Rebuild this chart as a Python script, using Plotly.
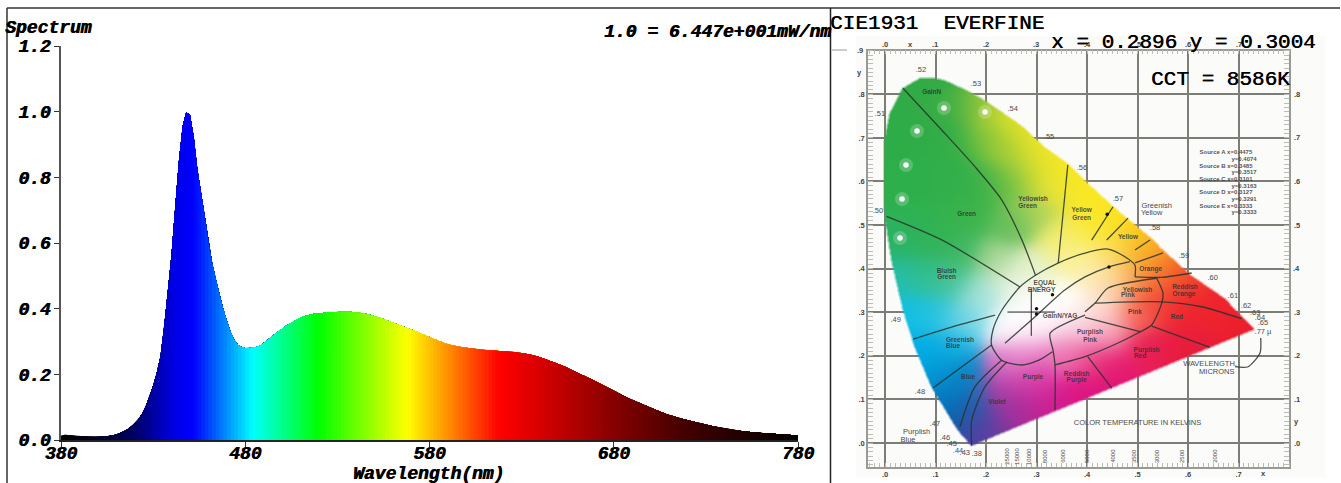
import numpy as np
import plotly.graph_objects as go

W, H = 1341, 483

# ---------- spectrum data (every 2 nm from 380 nm) ----------
wavelength_start = 380
wavelength_step = 2
spectrum = [
    .014,.016,.015,.013,.012,.011,.010,.010,.009,.009,
    .009,.010,.011,.012,.014,.017,.021,.026,.032,.040,
    .050,.063,.080,.103,.132,.165,.205,.255,.345,.450,
    .565,.710,.850,.955,.998,.990,.925,.825,.750,.680,
    .600,.540,.490,.440,.400,.363,.330,.305,.290,.283,
    .280,.280,.281,.283,.287,.295,.304,.314,.323,.332,
    .339,.347,.354,.361,.368,.373,.377,.380,.383,.385,
    .386,.387,.388,.389,.390,.391,.391,.391,.391,.390,
    .389,.388,.386,.384,.381,.378,.375,.371,.367,.362,
    .358,.354,.349,.345,.340,.336,.332,.328,.323,.318,
    .313,.308,.303,.299,.295,.292,.289,.286,.284,.282,
    .281,.279,.278,.277,.275,.274,.274,.273,.272,.271,
    .271,.270,.269,.268,.267,.265,.263,.261,.259,.255,
    .252,.248,.244,.240,.236,.231,.226,.222,.216,.211,
    .206,.200,.195,.190,.185,.179,.173,.167,.161,.155,
    .149,.143,.138,.133,.127,.122,.118,.113,.108,.103,
    .098,.093,.088,.084,.080,.076,.072,.069,.066,.063,
    .060,.057,.054,.051,.048,.046,.044,.042,.039,.037,
    .035,.033,.031,.029,.027,.026,.025,.024,.023,.022,
    .021,.020,.019,.018,.018,.017,.016,.016,.015,.015,.014,
]
wavelengths = [wavelength_start + wavelength_step * i for i in range(len(spectrum))]
x_ticks = [380, 480, 580, 680, 780]
y_ticks = [0, .2, .4, .6, .8, 1.0, 1.2]
y_ticktext = ["0.0", "0.2", "0.4", "0.6", "0.8", "1.0", "1.2"]
spectrum_stops = [
    (380,0,0,0),(400,0,0,45),(420,0,0,100),(435,0,0,190),
    (442,0,0,230),(452,0,0,255),(484,0,255,255),(520,0,255,0),
    (568,255,255,0),(618,255,0,0),(640,215,0,0),(680,135,0,0),
    (720,65,0,0),(780,0,0,0),
]

# ---------- CIE 1931 data (chromaticity) ----------
measured_x, measured_y = 0.2896, 0.3004
locus_x = [.1717,.1446,.0925,.0594,.0362,.0133,0,-.0014,.0099,.0356,.0693,.0925,.1188,.1584,.198,.2707,.3168,.3624,.396,.4614,.5287,.548,.6073,.673,.7327]
locus_y = [-.006,.0298,.129,.2209,.305,.4197,.519,.688,.757,.814,.837,.839,.8326,.812,.787,.729,.6796,.642,.603,.5344,.47,.447,.385,.3326,.2615]
# colour anchors x, y, r, g, b
gamut_colors = [
 (.05,.82,50,170,70),(.1,.84,50,170,70),(.0,.7,45,172,72),(.05,.7,45,172,72),(.1,.72,50,172,70),(.15,.78,70,175,68),(.14,.68,50,175,72),
 (.0,.6,45,175,75),(.05,.6,45,175,75),(.1,.6,48,175,75),(.15,.6,50,175,75),(.2,.6,60,178,72),(.1,.5,50,178,78),(.05,.5,45,178,85),(.17,.52,60,180,75),
 (.2,.78,170,205,55),(.2,.7,130,195,60),(.25,.74,225,225,40),(.25,.66,165,205,55),(.25,.6,115,192,70),(.3,.68,240,230,38),(.3,.62,215,222,50),
 (.35,.64,248,232,35),(.35,.58,240,230,50),(.3,.53,170,210,90),(.25,.5,100,190,90),(.4,.58,250,232,32),(.4,.5,250,232,55),(.45,.52,250,228,30),(.5,.47,250,205,30),
 (.45,.44,252,225,90),(.53,.45,248,165,35),(.56,.4,245,115,40),(.6,.37,240,60,45),(.5,.4,250,170,60),(.53,.36,245,105,55),
 (.66,.32,238,35,45),(.72,.26,235,30,45),(.6,.3,238,35,48),(.55,.32,240,50,50),(.5,.3,245,110,90),(.6,.22,232,28,60),(.52,.22,232,30,85),(.45,.18,228,25,110),
 (.38,.12,222,20,130),(.45,.1,225,20,125),(.33,.08,205,30,145),(.3,.14,210,45,160),(.26,.07,165,45,155),(.24,.12,175,60,165),(.2,.04,105,60,160),(.17,.005,85,60,160),
 (.14,.04,0,95,165),(.12,.1,0,125,195),(.17,.08,30,95,170),(.1,.17,0,150,215),(.15,.15,10,130,195),(.07,.21,0,175,230),(.13,.22,20,175,225),(.05,.3,15,190,228),
 (.1,.3,40,195,225),(.16,.28,120,215,230),(.03,.38,35,190,175),(.08,.38,50,190,140),(.13,.37,70,195,150),(.19,.34,170,228,220),(.02,.46,42,178,105),(.08,.45,48,180,95),
 (.15,.44,60,182,95),(.22,.42,170,215,150),(.26,.37,235,245,225),(.3,.4,230,240,195),
 (.3,.33,255,255,255),(.36,.33,255,255,255),(.25,.27,255,255,255),(.3,.27,253,245,250),(.42,.38,253,238,190),(.38,.42,250,242,150),(.35,.47,245,238,115),
 (.46,.37,250,205,150),(.43,.31,252,225,215),(.38,.26,250,222,232),(.44,.25,245,165,190),(.35,.2,238,130,190),(.28,.21,243,180,222),(.25,.18,215,110,195),(.3,.17,225,70,170),(.4,.2,235,70,140),
]
region_lines = [
 ([.0356,.1123,.178,.231,.271,.298],[.814,.718,.634,.558,.466,.385]),
 ([.003,.1123,.267],[.52,.466,.358]),
 ([.362,.35,.343],[.638,.496,.413]),
 ([.0557,.145,.218],[.2385,.2706,.2936]),
 ([.095,.211],[.126,.2248]),
 ([.495,.495,.475,.4416,.396,.3426,.298,.267,.231,.2137,.211,.231,.271,.3046,.3316],[.381,.408,.4273,.445,.4358,.4128,.385,.358,.304,.2592,.2248,.190,.179,.190,.2094]),
 ([.3366,.396,.4614,.501,.528,.548,.5505,.538],[.179,.198,.2294,.2523,.2706,.321,.344,.378]),
 ([.416,.548,.627,.706],[.321,.324,.3126,.2853]),
 ([.396,.416,.4416,.538],[.301,.321,.3555,.378]),
 ([.396,.327,.3327,.3366,.3366],[.2936,.252,.2133,.179,.0757]),
 ([.396,.505],[.2883,.2553]),
 ([.528,.6436],[.2683,.2195]),
 ([.4014,.449],[.198,.126]),
 ([.495,.548,.6073],[.381,.38,.39]),
 ([.495,.5505],[.413,.436]),
 ([.2376,.29,.356,.396,.4436,.485],[.229,.282,.351,.381,.404,.416]),
 ([.231,.178,.1485],[.190,.129,.0374]),
 ([.2416,.198,.1717,.1717],[.1865,.129,.0528,-.006]),
 ([.4515,.4093],[.542,.4656]),
 ([.4812,.439],[.516,.4656]),
 ([.5248,.495],[.4656,.4427]),
 ([.693,.719,.7426,.744],[.175,.175,.2064,.2408]),
]
led_x = [.0297,.0337,.0416,.0634,.1168,.198]
led_y = [.4702,.5596,.6376,.7156,.7684,.7592]
locus_dots_x = [.3316,.3,.3,.4436,.44]
locus_dots_y = [.34,.308,.296,.404,.525]
region_names = [
 ("GaInN",.0925,.8035),("Green",.1618,.5245),("Yellowish",.293,.5596),("Green",.2826,.542),("Yellow",.3895,.5328),("Green",.3895,.515),
 ("Yellow",.4812,.4725),("Orange",.526,.398),("Reddish",.594,.357),("Orange",.592,.342),("Red",.578,.288),("Pink",.495,.2998),
 ("Yellowish",.5,.351),("Pink",.481,.3378),("Purplish",.406,.2546),("Pink",.406,.2362),("Purplish",.518,.2117),("Red",.505,.198),
 ("Reddish",.3796,.158),("Purple",.3796,.1445),("Purple",.293,.1507),("Violet",.2218,.0933),("Blue",.1644,.1498),
 ("Greenish",.1485,.2362),("Blue",.1347,.2225),("Bluish",.122,.393),("Green",.122,.38),("EQUAL",.3168,.367),("ENERGY",.31,.351),("GaInN/YAG",.3465,.2913),
]
outer_names = [
 (".52",.0713,.8555),(".53",.18,.8227),(".54",.2529,.766),(".55",.3248,.7018),(".56",.39,.63),(".57",.4614,.5596),(".58",.5347,.493),
 (".59",.592,.4296),(".60",.649,.3777),(".61",.689,.3378),(".62",.715,.3142),(".63",.733,.298),(".64",.7426,.2867),(".65",.7485,.275),(".77 µ",.7485,.2553),
 (".51",-.01,.7546),(".50",-.0139,.5328),(".49",.021,.282),(".48",.0693,.1177),(".47",.099,.0429),(".46",.1188,.0115),(".45",.132,-.0023),(".44",.1446,-.0177),(".43",.158,-.023),(".38",.1816,-.0252),
 ("Greenish",.538,.5443),("Yellow",.528,.5275),("Purplish",.0627,.026),("Blue",.0455,.0069),
 ("COLOR TEMPERATURE IN KELVINS",.5,.0466),("WAVELENGTH,",.6436,.181),("MICRONS",.657,.162),
]
source_names = ["Source A x=0.4475","y=0.4074","Source B x=0.3485","y=0.3517","Source C x=0.3101","y=0.3163","Source D x=0.3127","y=0.3291","Source E x=0.3333","y=0.3333"]
source_x = [.675,.711]*5
source_y = [.6658,.6505,.6352,.6199,.6046,.5893,.574,.5587,.5434,.5281]
frame_marks = [
 (".9",-.05,.9),("y",-.05,.85),(".0",0,.915),("x",.05,.915),(".1",.1,.915),(".2",.2,.915),(".3",.3,.915),(".4",.4,.915),(".5",.5,.915),(".6",.6,.915),(".7",.7,.915),
 (".8",.815,.8),(".7",.815,.7),(".6",.815,.6),(".5",.815,.5),(".4",.815,.4),(".3",.815,.3),(".2",.815,.2),(".1",.815,.1),("y",.815,.05),(".0",.815,0),
 ("x",.75,-.07),
]
kelvin_labels = ["25000","15000","10000","8000","6000","5000","4000","3500","3000","2500","2000"]
kelvin_x = [.241,.261,.285,.317,.352,.4,.451,.493,.539,.588,.653]
cie_x_ticks = [0,.1,.2,.3,.4,.5,.6,.7]
cie_x_text = [".0",".1",".2",".3",".4",".5",".6",".7"]
cie_y_ticks = [0,.1,.2,.3,.4,.5,.6,.7,.8]
cie_y_text = [".0",".1",".2",".3",".4",".5",".6",".7",".8"]

# ---------- helpers ----------
def hx(p): return p / W
def vy(p): return 1 - p / H

MONO = "Liberation Mono"
BOLD_IT = dict(family=MONO, size=18, color="black", weight="bold", style="italic", shadow="0.7px 0 0 #000")

# CIE axes calibration: x = 0.8 at the right border, y = 0.9 at the top border
CIE_L, CIE_R, CIE_T, CIE_B = 868, 1289, 50.7, 466.7
CIE_SX, CIE_SY = 505.0, 436.0
cie_xrange = [-(885 - CIE_L) / CIE_SX, .8]
cie_yrange = [-(CIE_B - 443) / CIE_SY, .9]
xdom = [hx(CIE_L), hx(CIE_R)]
ydom = [vy(CIE_B), vy(CIE_T)]

fig = go.Figure()

# ---------- spectrum fill: each trace paints from its wavelength onwards ----------
stops = np.array(spectrum_stops, dtype=float)
for i, w in enumerate(wavelengths[:-1]):
    r, g, b = (int(round(np.interp(w + 1, stops[:, 0], stops[:, c]))) for c in (1, 2, 3))
    fig.add_trace(go.Scatter(x=wavelengths[i:], y=spectrum[i:], mode="lines", fill="tozeroy",
                             fillcolor=f"rgb({r},{g},{b})", line=dict(width=0), showlegend=False, hoverinfo="skip",
                             xaxis="x", yaxis="y"))

# ---------- gamut raster from the colour anchors and the locus ----------
dx, dy = 1 / CIE_SX, 1 / CIE_SY
gx = np.arange(-.012, .75, dx)
gy = np.arange(-.012, .85, dy)
XX, YY = np.meshgrid(gx, gy)
anch = np.array(gamut_colors, dtype=float)
wsum = np.zeros_like(XX)
rgb = np.zeros(XX.shape + (3,))
SIGMA2 = 2 * 0.032 ** 2
for ax_, ay_, r, g, b in anch:
    w_ = np.exp(-((XX - ax_) ** 2 + (YY - ay_) ** 2) / SIGMA2) + 1e-12
    wsum += w_
    rgb[..., 0] += w_ * r
    rgb[..., 1] += w_ * g
    rgb[..., 2] += w_ * b
rgb /= wsum[..., None]
px_, py_ = np.array(locus_x), np.array(locus_y)
inside = np.zeros(XX.shape, bool)
for k in range(len(px_)):
    x1, y1, x2, y2 = px_[k], py_[k], px_[(k + 1) % len(px_)], py_[(k + 1) % len(px_)]
    if y1 == y2:
        continue
    crossing = ((y1 > YY) != (y2 > YY)) & (XX < (x2 - x1) * (YY - y1) / (y2 - y1) + x1)
    inside ^= crossing
alpha = inside.astype(float)
alpha = sum(np.roll(np.roll(alpha, a, 0), b, 1) for a in (-1, 0, 1) for b in (-1, 0, 1)) / 9
rgba = np.dstack([rgb, alpha * 255]).round().astype(int)
fig.add_trace(go.Image(z=rgba.tolist(), colormodel="rgba", x0=gx[0], y0=gy[0], dx=dx, dy=dy,
                       zmin=[0, 0, 0, 0], zmax=[255, 255, 255, 255], hoverinfo="skip",
                       xaxis="x2", yaxis="y2"))

# region borders
for xs, ys in region_lines:
    fig.add_trace(go.Scatter(x=xs, y=ys, mode="lines", line=dict(color="rgba(40,50,45,.85)", width=1.3, shape="spline", smoothing=.7),
                             showlegend=False, hoverinfo="skip", xaxis="x2", yaxis="y2"))
# LEDs
fig.add_trace(go.Scatter(x=led_x, y=led_y, mode="markers", marker=dict(size=14, color="rgba(255,255,255,.2)"),
                         showlegend=False, hoverinfo="skip", xaxis="x2", yaxis="y2"))
fig.add_trace(go.Scatter(x=led_x, y=led_y, mode="markers", marker=dict(size=5.5, color="white"),
                         showlegend=False, hoverinfo="skip", xaxis="x2", yaxis="y2"))
fig.add_trace(go.Scatter(x=locus_dots_x, y=locus_dots_y, mode="markers", marker=dict(size=3.5, color="#111"),
                         showlegend=False, hoverinfo="skip", xaxis="x2", yaxis="y2"))
# measured point
fig.add_trace(go.Scatter(x=[measured_x], y=[measured_y], mode="markers",
                         marker=dict(symbol="cross-thin", size=34, line=dict(color="#222", width=1)),
                         showlegend=False, hoverinfo="skip", xaxis="x2", yaxis="y2"))

def text_trace(items, size, color, bold=True):
    fig.add_trace(go.Scatter(x=[i[1] for i in items], y=[i[2] for i in items], text=[i[0] for i in items],
                             mode="text", textposition="middle center", cliponaxis=False,
                             textfont=dict(family="Liberation Sans", size=size, color=color,
                                           weight="bold" if bold else "normal"),
                             showlegend=False, hoverinfo="skip", xaxis="x2", yaxis="y2"))

text_trace(region_names, 6.5, "rgba(50,50,50,.85)")
text_trace(outer_names, 7.5, "rgb(75,75,75)", bold=False)
text_trace(list(zip(source_names, source_x, source_y)), 6, "rgba(50,50,50,.85)")

annotations = []
for lab, kx in zip(kelvin_labels, kelvin_x):
    annotations.append(dict(x=kx, y=-.03, xref="x2", yref="y2", text=lab, showarrow=False, textangle=-90,
                            font=dict(family="Liberation Sans", size=6, color="rgb(80,80,80)")))
# marks beside the frame lie outside the axis ranges, so they are placed on the paper
for lab, mx, my in frame_marks:
    annotations.append(dict(
        x=xdom[0] + (mx - cie_xrange[0]) / (cie_xrange[1] - cie_xrange[0]) * (xdom[1] - xdom[0]),
        y=ydom[0] + (my - cie_yrange[0]) / (cie_yrange[1] - cie_yrange[0]) * (ydom[1] - ydom[0]),
        xref="paper", yref="paper", text=lab, showarrow=False, xanchor="center", yanchor="middle",
        font=dict(family="Liberation Sans", size=7.5, color="#444", weight="bold")))
def label(txt, left, cy, font, anchor="left"):
    annotations.append(dict(x=hx(left), y=vy(cy), xref="paper", yref="paper", text=txt, showarrow=False,
                            xanchor=anchor, yanchor="middle", font=font, borderpad=0, borderwidth=0))
label("Spectrum", 5, 28, BOLD_IT)
label("1.0 = 6.447e+001mW/nm", 831, 32, BOLD_IT, "right")
label("Wavelength(nm)", 428, 474, BOLD_IT, "center")
HEAD = dict(family=MONO, size=21, color="black", shadow="0.5px 0 0 #000")
label("CIE1931  EVERFINE", 830, 23, HEAD)
label("x = 0.2896 y = 0.3004", 1051, 43, HEAD)
label("CCT = 8586K", 1151, 79, HEAD)

shapes = [
    dict(type="rect", xref="paper", yref="paper", x0=hx(856), x1=hx(1325), y0=vy(477), y1=vy(36),
         fillcolor="#fbfbf9", line=dict(width=0), layer="below"),
    dict(type="line", xref="paper", yref="paper", x0=hx(7), x1=hx(1340), y0=vy(8), y1=vy(8), line=dict(color="#333", width=1.5)),
    dict(type="line", xref="paper", yref="paper", x0=hx(7), x1=hx(7), y0=vy(8), y1=0, line=dict(color="#333", width=1.5)),
    dict(type="line", xref="paper", yref="paper", x0=hx(830.5), x1=hx(830.5), y0=vy(8), y1=0, line=dict(color="#222", width=1.5)),
    dict(type="line", xref="paper", yref="paper", x0=hx(832), x1=hx(847), y0=vy(50), y1=vy(50), line=dict(color="#999", width=1)),
]

TICKFONT = BOLD_IT
fig.update_layout(
    width=W, height=H, margin=dict(l=0, r=0, t=0, b=0, pad=0, autoexpand=False), autosize=False,
    paper_bgcolor="white", plot_bgcolor="rgba(0,0,0,0)", showlegend=False,
    annotations=annotations, shapes=shapes,
    xaxis=dict(domain=[hx(61), hx(798)], range=[380, 780], tickvals=x_ticks, ticks="outside", ticklen=5, tickwidth=1,
               tickcolor="#333", showgrid=False, zeroline=False, showline=True, linecolor="#222", linewidth=1.5,
               tickfont=TICKFONT, anchor="y", ticklabelstandoff=-9),
    yaxis=dict(domain=[vy(440), vy(46)], range=[0, 1.2], tickvals=y_ticks, ticktext=y_ticktext, ticks="outside", ticklen=5,
               tickwidth=1, tickcolor="#333", showgrid=False, zeroline=False, showline=True, linecolor="#555", linewidth=1.5,
               tickfont=TICKFONT, anchor="x"),
    xaxis2=dict(domain=xdom, range=cie_xrange, tickvals=cie_x_ticks, ticktext=cie_x_text, ticks="",
                showgrid=True, gridcolor="#7d7d78", gridwidth=1.8, zeroline=False, showline=True, linecolor="#9a9a94", linewidth=1.5,
                mirror="ticks", minor=dict(ticks="inside", ticklen=4, dtick=.01, tickcolor="#bdbdb8", tickwidth=1, showgrid=False),
                tickfont=dict(family="Liberation Sans", size=7.5, color="#444", weight="bold"), anchor="y2", scaleanchor=False, constrain="range"),
    yaxis2=dict(domain=ydom, range=cie_yrange, tickvals=cie_y_ticks, ticktext=cie_y_text, ticks="",
                showgrid=True, gridcolor="#7d7d78", gridwidth=1.8, zeroline=False, showline=True, linecolor="#9a9a94", linewidth=1.5,
                mirror="ticks", minor=dict(ticks="inside", ticklen=5, dtick=.01, tickcolor="#bdbdb8", tickwidth=1, showgrid=False),
                tickfont=dict(family="Liberation Sans", size=7.5, color="#444", weight="bold"), anchor="x2", scaleanchor=False, constrain="range", autorange=False),
)
fig.write_html("out.html", config={"displayModeBar": False},
               post_script="document.body.style.margin='0';document.documentElement.style.overflow='hidden';")
